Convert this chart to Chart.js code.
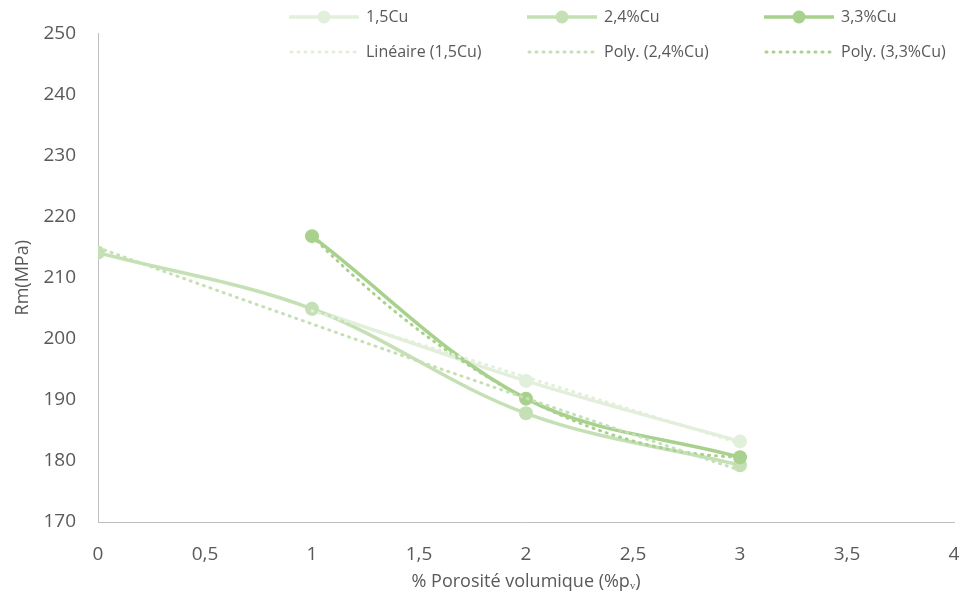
<!DOCTYPE html>
<html>
<head>
<meta charset="utf-8">
<script src="https://cdn.jsdelivr.net/npm/chart.js@4.4.0/dist/chart.umd.min.js"></script>
<style>
  body { margin: 0; background: #fff; }
</style>
</head>
<body>
<canvas id="myChart" width="963" height="595"></canvas>
<script>
// values
var cu15X = [1, 2, 3];
var cu15Y = [204.9, 193.1, 183.2];
var cu24X = [0, 1, 2, 3];
var cu24Y = [214.1, 204.9, 187.8, 179.3];
var cu33X = [1, 2, 3];
var cu33Y = [216.8, 190.2, 180.6];

var seriesLabels = ['1,5Cu', '2,4%Cu', '3,3%Cu'];
var trendLabels = ['Linéaire (1,5Cu)', 'Poly. (2,4%Cu)', 'Poly. (3,3%Cu)'];
var colors = ['#e2efda', '#c5e0b4', '#a9d18e'];

var xTitle = '% Porosité volumique (%pᵥ)';
var yTitle = 'Rm(MPa)';

function toPoints(xs, ys) {
    return xs.map(function (x, i) { return { x: x, y: ys[i] }; });
}

// least squares polynomial fit (Excel trendline)
function polyFit(xs, ys, deg) {
    var n = deg + 1, A = [], b = [];
    for (var i = 0; i < n; i++) {
        A.push([]);
        for (var j = 0; j < n; j++) {
            A[i].push(xs.reduce(function (s, x) { return s + Math.pow(x, i + j); }, 0));
        }
        b.push(xs.reduce(function (s, x, k) { return s + ys[k] * Math.pow(x, i); }, 0));
    }
    for (var c = 0; c < n; c++) {
        for (var r = c + 1; r < n; r++) {
            var f = A[r][c] / A[c][c];
            for (var k = c; k < n; k++) A[r][k] -= f * A[c][k];
            b[r] -= f * b[c];
        }
    }
    var coef = [];
    for (var r2 = n - 1; r2 >= 0; r2--) {
        var s = b[r2];
        for (var k2 = r2 + 1; k2 < n; k2++) s -= A[r2][k2] * coef[k2];
        coef[r2] = s / A[r2][r2];
    }
    return coef;
}

function trendPoints(xs, ys, deg) {
    var coef = polyFit(xs, ys, deg);
    var x0 = xs[0], x1 = xs[xs.length - 1];
    var pts = [];
    var steps = deg === 1 ? 1 : 40;
    for (var i = 0; i <= steps; i++) {
        var x = x0 + (x1 - x0) * i / steps;
        var y = 0;
        for (var c = 0; c < coef.length; c++) y += coef[c] * Math.pow(x, c);
        pts.push({ x: x, y: y });
    }
    return pts;
}

function seriesSet(label, pts, color, order) {
    return {
        label: label,
        data: pts,
        borderColor: color,
        backgroundColor: color,
        borderWidth: 3.5,
        pointRadius: 7,
        pointBorderWidth: 0,
        pointBackgroundColor: color,
        tension: 0.35,
        order: order
    };
}

function trendSet(label, pts, color) {
    return {
        label: label,
        data: pts,
        borderColor: color,
        borderWidth: 3,
        borderDash: [1, 6],
        borderCapStyle: 'round',
        pointRadius: 0,
        tension: 0,
        order: 0
    };
}

var legendPlugin = {
    id: 'excelLegend',
    afterDraw: function (chart) {
        var ctx = chart.ctx;
        var cols = [289, 527, 764];
        var rows = [17, 52];
        ctx.save();
        ctx.font = '16px "Open Sans"';
        ctx.textBaseline = 'middle';
        for (var i = 0; i < 3; i++) {
            var x = cols[i];
            // series sample
            ctx.strokeStyle = colors[i];
            ctx.lineWidth = 3.5;
            ctx.setLineDash([]);
            ctx.lineCap = 'butt';
            ctx.beginPath();
            ctx.moveTo(x, rows[0]);
            ctx.lineTo(x + 70, rows[0]);
            ctx.stroke();
            ctx.fillStyle = colors[i];
            ctx.beginPath();
            ctx.arc(x + 35, rows[0], 6.5, 0, Math.PI * 2);
            ctx.fill();
            ctx.fillStyle = '#595959';
            ctx.fillText(seriesLabels[i], x + 77, rows[0]);
            // trend sample
            ctx.lineWidth = 3;
            ctx.setLineDash([1, 6]);
            ctx.lineCap = 'round';
            ctx.beginPath();
            ctx.moveTo(x + 2, rows[1]);
            ctx.lineTo(x + 68, rows[1]);
            ctx.stroke();
            ctx.fillText(trendLabels[i], x + 77, rows[1]);
        }
        ctx.restore();
    }
};

var ctx = document.getElementById('myChart').getContext('2d');
var myChart = new Chart(ctx, {
    type: 'line',
    data: {
        datasets: [
            trendSet(trendLabels[0], trendPoints(cu15X, cu15Y, 1), colors[0]),
            trendSet(trendLabels[1], trendPoints(cu24X, cu24Y, 2), colors[1]),
            trendSet(trendLabels[2], trendPoints(cu33X, cu33Y, 2), colors[2]),
            seriesSet(seriesLabels[2], toPoints(cu33X, cu33Y), colors[2], 1),
            seriesSet(seriesLabels[1], toPoints(cu24X, cu24Y), colors[1], 2),
            seriesSet(seriesLabels[0], toPoints(cu15X, cu15Y), colors[0], 3)
        ]
    },
    options: {
        responsive: false,
        animation: false,
        layout: { padding: { top: 32, right: 9, left: 0, bottom: 0 } },
        plugins: {
            legend: { display: false },
            tooltip: { enabled: false }
        },
        scales: {
            x: {
                type: 'linear',
                min: 0,
                max: 4,
                grid: { display: false, drawTicks: false },
                border: { color: '#bfbfbf', width: 1 },
                ticks: {
                    stepSize: 0.5,
                    padding: 21,
                    color: '#595959',
                    font: { family: 'Open Sans', size: 19 },
                    callback: function (v) { return String(v).replace('.', ','); }
                },
                title: {
                    display: true,
                    text: xTitle,
                    color: '#595959',
                    font: { family: 'Open Sans', size: 18 },
                    padding: { top: 0, bottom: 2 }
                },
                afterFit: function (scale) {
                    scale.height = 73;
                    scale.paddingLeft = 0;
                    scale.paddingRight = 0;
                }
            },
            y: {
                min: 170,
                max: 250,
                grid: { display: false, drawTicks: false },
                border: { color: '#bfbfbf', width: 1 },
                ticks: {
                    stepSize: 10,
                    padding: 22,
                    color: '#595959',
                    font: { family: 'Open Sans', size: 19 },
                    maxRotation: 0
                },
                title: {
                    display: true,
                    text: yTitle,
                    color: '#595959',
                    font: { family: 'Open Sans', size: 18 },
                    padding: { top: 12, bottom: 0 }
                },
                afterFit: function (scale) { scale.width = 98; }
            }
        }
    },
    plugins: [legendPlugin]
});
</script>
</body>
</html>
